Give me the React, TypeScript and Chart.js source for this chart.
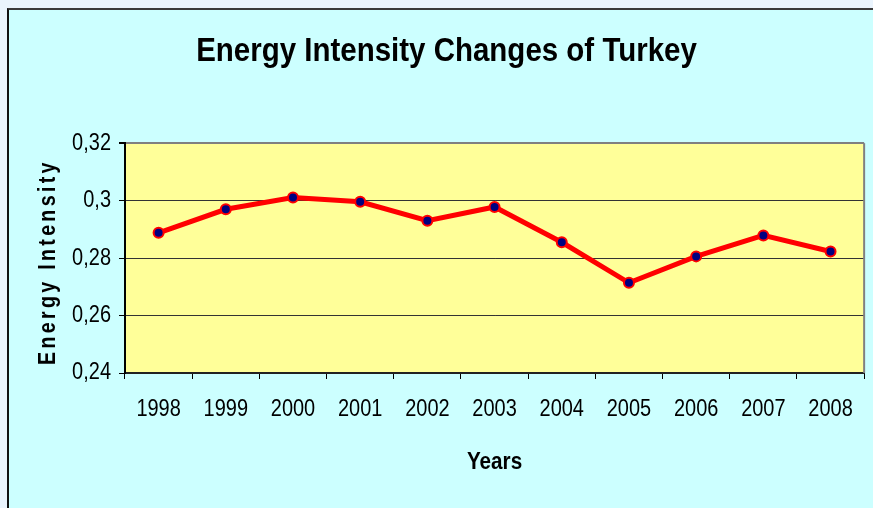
import React, { useEffect, useRef } from "react";
import { Chart, registerables } from "chart.js";

Chart.register(...registerables);

const years = ["1998", "1999", "2000", "2001", "2002", "2003", "2004", "2005", "2006", "2007", "2008"];
const energyIntensity = [0.2888, 0.297, 0.3011, 0.2996, 0.293, 0.2978, 0.2855, 0.2714, 0.2806, 0.2879, 0.2823];
const yMin = 0.24;
const yMax = 0.32;
const yStep = 0.02;
const chartTitle = "Energy Intensity Changes of Turkey";
const xTitle = "Years";
const yTitle = "Energy Intensity";

const FONT = "'Liberation Sans', Arial, sans-serif";

const plotBg = {
  id: "plotBg",
  beforeDraw(chart: any) {
    const { ctx, chartArea: a } = chart;
    ctx.save();
    ctx.fillStyle = "#ffff99";
    ctx.fillRect(a.left, a.top, a.right - a.left, a.bottom - a.top);
    ctx.restore();
    const s = chart.scales.y;
    if (s && !s.__patched) {
      const orig = s.drawTitle;
      s.drawTitle = function (...args: any[]) {
        const c = this.ctx;
        c.save();
        c.translate(0, 4);
        c.letterSpacing = "4px";
        orig.apply(this, args);
        c.restore();
      };
      s.__patched = true;
    }
  },
  beforeDatasetsDraw(chart: any) {
    const { ctx, chartArea: a } = chart;
    ctx.save();
    ctx.strokeStyle = "#808080";
    ctx.lineWidth = 2;
    ctx.beginPath();
    ctx.moveTo(a.right, a.top);
    ctx.lineTo(a.right, a.bottom);
    ctx.stroke();
    ctx.restore();
  },
};

export default function App() {
  const ref = useRef<HTMLCanvasElement | null>(null);
  useEffect(() => {
    if (!ref.current) return;
    const ctx2d = ref.current.getContext("2d") as any;
    const origFill = ctx2d.fillText.bind(ctx2d);
    ctx2d.fillText = (t: string, x: number, y: number, mw?: number) => {
      const m = ctx2d.getTransform();
      const rotated = Math.abs(m.b) > 1e-6;
      const sx = rotated ? 1 : String(ctx2d.font).includes("bold") ? 0.88 : 0.85;
      const sy = rotated ? 0.82 : 1;
      const p = m.transformPoint(new DOMPoint(x, y));
      const S = new DOMMatrix().translate(p.x, p.y).scale(sx, sy).translate(-p.x, -p.y);
      ctx2d.setTransform(S.multiply(m));
      if (mw === undefined) origFill(t, x, y);
      else origFill(t, x, y, mw);
      ctx2d.setTransform(m);
    };
    const chart = new Chart(ref.current, {
      type: "line",
      data: {
        labels: years,
        datasets: [
          {
            data: energyIntensity,
            borderColor: "#ff0000",
            borderWidth: 5,
            pointBackgroundColor: "#000080",
            pointBorderColor: "#ff0000",
            pointBorderWidth: 2,
            pointRadius: 5,
            tension: 0,
          },
        ],
      },
      options: {
        animation: false,
        responsive: false,
        maintainAspectRatio: false,
        layout: { padding: { left: 26, right: 6, top: 0, bottom: 0 } },
        plugins: {
          legend: { display: false },
          tooltip: { enabled: false },
          title: {
            display: true,
            text: chartTitle,
            color: "#000",
            font: { family: FONT, size: 33.5, weight: "bold", lineHeight: 1.2 },
            padding: { top: 32, bottom: 71 },
          },
        },
        scales: {
          x: {
            type: "category",
            offset: true,
            grid: { offset: true, drawOnChartArea: false, drawTicks: true, tickLength: 6, tickColor: "#000" },
            border: { display: true, color: "#222", width: 2 },
            ticks: { color: "#000", font: { family: FONT, size: 23.5 }, padding: 16, maxRotation: 0, autoSkip: false },
            title: {
              display: true,
              text: xTitle,
              color: "#000",
              font: { family: FONT, size: 23.5, weight: "bold", lineHeight: 1.2 },
              padding: { top: 0, bottom: 31 },
            },
            afterFit(scale: any) {
              scale.height = 135;
            },
          },
          y: {
            type: "linear",
            min: yMin,
            max: yMax,
            grid: {
              color: (c: any) => (c.tick && c.tick.value > yMax - yStep / 2 ? "#808080" : "#333"),
              lineWidth: (c: any) => (c.tick && c.tick.value > yMax - yStep / 2 ? 2 : 1),
              drawTicks: true,
              tickLength: 6,
              tickColor: "#000",
            },
            border: { display: true, color: "#000", width: 2 },
            ticks: {
              stepSize: yStep,
              color: "#000",
              font: { family: FONT, size: 23.5 },
              padding: 8,
              callback: (v: any) => String(Math.round(Number(v) * 100) / 100).replace(".", ","),
            },
            title: {
              display: true,
              text: yTitle,
              color: "#000",
              font: { family: FONT, size: 24, weight: "bold", lineHeight: 1.2 },
              padding: { top: 7.5, bottom: 0 },
            },
            afterFit(scale: any) {
              scale.width = 99;
            },
          },
        },
      },
      plugins: [plotBg],
    });
    return () => chart.destroy();
  }, []);

  return (
    <div style={{ position: "fixed", left: 0, top: 0, width: 873, height: 508, background: "#eaf4fd", overflow: "hidden" }}>
      <div
        style={{
          position: "absolute",
          left: 7,
          top: 8,
          width: 900,
          height: 520,
          background: "#ccffff",
          borderLeft: "2px solid #111",
          borderTop: "2px solid #3a3a3a",
        }}
      />
      <canvas ref={ref} width={873} height={508} style={{ position: "absolute", left: 0, top: 0, width: 873, height: 508 }} />
    </div>
  );
}
